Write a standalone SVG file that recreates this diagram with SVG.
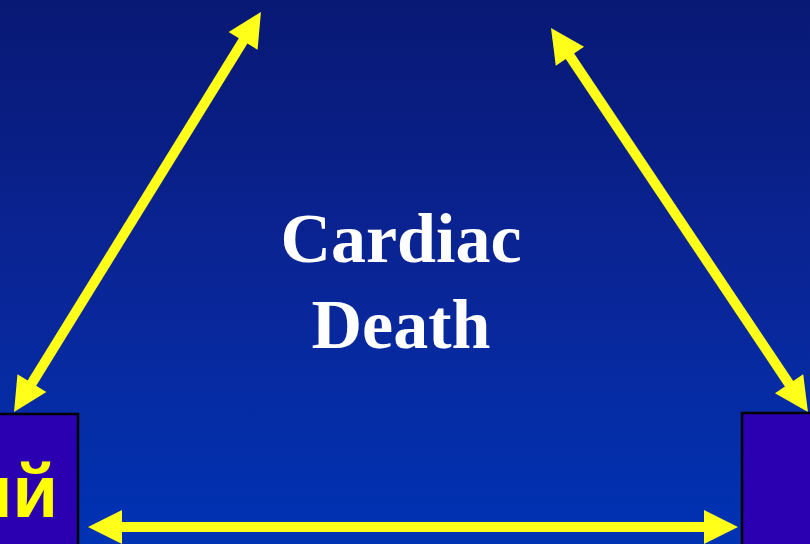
<svg xmlns="http://www.w3.org/2000/svg" width="810" height="544" viewBox="0 0 810 544">
  <defs>
    <linearGradient id="bg" x1="0" y1="0" x2="0" y2="1">
      <stop offset="0" stop-color="#081874"/>
      <stop offset="0.5" stop-color="#0a2596"/>
      <stop offset="1" stop-color="#0033b4"/>
    </linearGradient>
    <marker id="head" markerUnits="userSpaceOnUse" markerWidth="40" markerHeight="40" refX="4" refY="0" viewBox="0 -20 40 40" orient="auto-start-reverse" overflow="visible">
      <path d="M0,-17 L34,0 L0,17 Z" fill="#ffff1a"/>
    </marker>
    <style>
      .conn { stroke: #ffff1a; stroke-width: 10; fill: none; marker-start: url(#head); marker-end: url(#head); }
      .box { fill: #2a00b0; stroke: #000; stroke-width: 2.5; }
      .title { font-family: "Liberation Serif", "Times New Roman", serif; font-weight: bold; font-size: 70px; fill: #ffffff; text-anchor: middle; }
      .lbl { font-family: "Liberation Sans", Arial, sans-serif; font-weight: bold; font-size: 74px; fill: #ffff00; }
    </style>
  </defs>
  <rect x="0" y="0" width="810" height="544" fill="url(#bg)"/>

  <g id="connectors">
    <line class="conn" x1="245.2" y1="37.5" x2="29.8" y2="386.5"/>
    <line class="conn" x1="567.7" y1="52.9" x2="791.3" y2="387.1"/>
    <line class="conn" x1="118" y1="527" x2="708" y2="527"/>
  </g>

  <g id="center">
    <text class="title" x="401" y="262">Cardiac</text>
    <text class="title" x="401" y="348">Death</text>
  </g>

  <g id="left-node">
    <rect class="box" x="-3" y="414" width="81" height="134"/>
    <text class="lbl" x="58" y="517" text-anchor="end">ый</text>
  </g>

  <g id="right-node">
    <rect class="box" x="742" y="413" width="72" height="135"/>
  </g>
</svg>
